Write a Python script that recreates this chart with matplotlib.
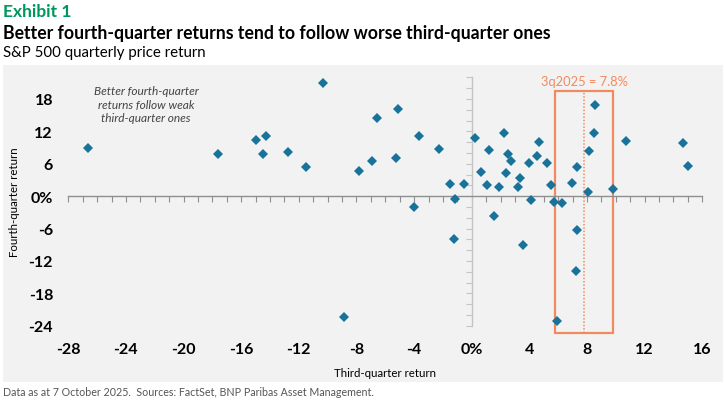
import matplotlib
matplotlib.use("Agg")
import matplotlib.pyplot as plt
from matplotlib.patches import Rectangle
from matplotlib.ticker import MultipleLocator, FixedLocator

# ---- data ----
q3_returns = [-26.66, -17.62, -14.99, -14.31, -14.52, -12.74, -11.50, -10.30, -8.90, -7.84,
              -6.93, -6.56, -5.27, -5.10, -4.00, -3.66, -2.30, -1.50, -1.19, -1.22,
              -0.57, 0.24, 0.63, 1.05, 1.21, 1.53, 1.88, 2.21, 2.35, 2.49,
              2.74, 3.19, 3.33, 3.57, 3.98, 4.14, 4.53, 4.69, 5.21, 5.50,
              5.72, 5.90, 6.27, 6.97, 7.28, 7.32, 7.21, 8.06, 8.13, 8.50,
              8.55, 9.80, 10.70, 14.64, 15.02]
q4_returns = [8.93, 7.87, 10.35, 11.20, 7.87, 8.19, 5.47, 20.94, -22.44, 4.73,
              6.52, 14.53, 7.13, 16.08, -2.03, 11.20, 8.80, 2.27, -0.55, -8.02,
              2.22, 10.72, 4.44, 2.03, 8.56, -3.77, 1.66, 11.65, 4.31, 7.76,
              6.52, 1.66, 3.33, -9.06, 6.10, -0.74, 7.50, 9.98, 6.21, 2.09,
              -1.00, -23.18, -1.24, 2.40, 5.36, -6.23, -13.86, 0.74, 8.32, 11.76,
              16.88, 1.29, 10.22, 9.85, 5.55]
q3_2025 = 7.8
x_ticks = [-28, -24, -20, -16, -12, -8, -4, 0, 4, 8, 12, 16]
x_tick_labels = ["-28", "-24", "-20", "-16", "-12", "-8", "-4", "0%", "4", "8", "12", "16"]
y_ticks = [-24, -18, -12, -6, 0, 6, 12, 18]
y_tick_labels = ["-24", "-18", "-12", "-6", "0%", "6", "12", "18"]

FONT = ["Lato", "DejaVu Sans"]
plt.rcParams["font.family"] = FONT

W, H = 725, 402
fig = plt.figure(figsize=(W / 100, H / 100), dpi=100)
fig.patch.set_facecolor("white")

# grey panel
fig.patches.append(Rectangle((3 / W, 1 - 383 / H), 720 / W, 317 / H,
                             transform=fig.transFigure, facecolor="#f2f2f2",
                             edgecolor="none", zorder=-10))

# titles
fig.text(3 / W, 1 - 17 / H, "Exhibit 1", color="#00965e", fontsize=12.5,
         fontweight="bold", ha="left", va="baseline")
fig.text(3 / W, 1 - 39.5 / H, "Better fourth-quarter returns tend to follow worse third-quarter ones",
         color="black", fontsize=12.7, fontweight="bold", ha="left", va="baseline")
fig.text(3 / W, 1 - 57 / H, "S&P 500 quarterly price return", color="black",
         fontsize=10.8, ha="left", va="baseline")
fig.text(3 / W, 1 - 396 / H,
         "Data as at 7 October 2025.  Sources: FactSet, BNP Paribas Asset Management.",
         color="#555555", fontsize=7.65, ha="left", va="baseline")

pos = [68.3 / W, 1 - 326.7 / H, 634 / W, 248.4 / H]
xlim = (-28, 16)
ylim = (-24, 22)

# label axes (tick labels at the panel edges)
axl = fig.add_axes(pos)
axl.set_zorder(1)
axl.set_xlim(*xlim)
axl.set_ylim(*ylim)
axl.patch.set_visible(False)
for s in axl.spines.values():
    s.set_visible(False)
axl.xaxis.set_major_locator(FixedLocator(x_ticks))
axl.set_xticklabels(x_tick_labels)
axl.yaxis.set_major_locator(FixedLocator(y_ticks))
axl.set_yticklabels(y_tick_labels)
axl.tick_params(axis="both", length=0, labelsize=11.5, colors="black")
axl.tick_params(axis="x", pad=12)
axl.tick_params(axis="y", pad=11)
for lab in axl.get_xticklabels() + axl.get_yticklabels():
    lab.set_fontweight("bold")
axl.set_xlabel("Third-quarter return", fontsize=8.3, labelpad=8)
axl.set_ylabel("Fourth-quarter return", fontsize=8.3, labelpad=6)

# main axes with spines through zero
ax = fig.add_axes(pos)
ax.set_zorder(2)
ax.set_xlim(*xlim)
ax.set_ylim(*ylim)
ax.patch.set_visible(False)
ax.spines["top"].set_visible(False)
ax.spines["right"].set_visible(False)
ax.spines["left"].set_position(("data", 0))
ax.spines["bottom"].set_position(("data", 0))
ax.spines["bottom"].set_color("#8f8f8f")
ax.spines["left"].set_color("#c4c4c4")
ax.spines["bottom"].set_linewidth(1.0)
ax.spines["left"].set_linewidth(1.0)
ax.xaxis.set_major_locator(MultipleLocator(1))
ax.yaxis.set_major_locator(MultipleLocator(2))
ax.tick_params(axis="x", direction="out", length=4, width=0.8, colors="#8f8f8f",
               labelbottom=False)
ax.tick_params(axis="y", direction="out", length=4, width=0.8, colors="#c4c4c4",
               labelleft=False)

orange = "#f28a5f"
# highlight box around 3q2025
box_half = 2.03
box_top, box_bottom = 19.4, -25.3
ax.add_patch(Rectangle((q3_2025 - box_half, box_bottom), 2 * box_half, box_top - box_bottom,
                       facecolor="none", edgecolor=orange, linewidth=1.6,
                       clip_on=False, zorder=2))
ax.plot([q3_2025, q3_2025], [box_bottom, box_top], color=orange, linestyle=(0, (1, 1.2)),
        linewidth=1.1, clip_on=False, zorder=2)
ax.text(q3_2025, 21.4, f"3q2025 = {q3_2025}%", color=orange, fontsize=9.3,
        ha="center", va="center")

# scatter
ax.plot(q3_returns, q4_returns, linestyle="none", marker="D", markersize=5.3,
        color="#18729a", markeredgewidth=0, zorder=3, clip_on=False)

ax.text(-22.6, 17.0, "Better fourth-quarter\nreturns follow weak\nthird-quarter ones",
        ha="center", va="center", fontsize=8.6, style="italic", color="#444444",
        linespacing=1.3)

fig.savefig("out.png", dpi=100)
